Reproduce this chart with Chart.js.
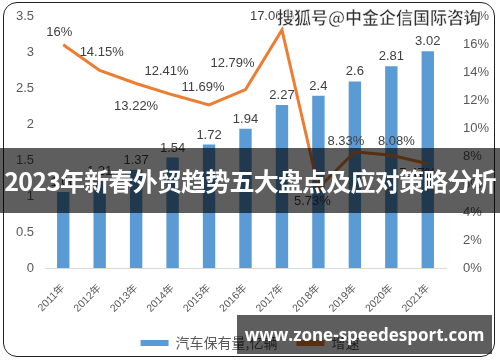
<!DOCTYPE html>
<html>
<head>
<meta charset="utf-8">
<script src="https://cdn.jsdelivr.net/npm/chart.js@4/dist/chart.umd.min.js"></script>
<style>
  html, body { margin: 0; padding: 0; background: #fff; }
  #wrap { position: relative; width: 500px; height: 362px; overflow: hidden; }
  #frame { position: absolute; left: 3px; top: 2px; width: 492px; height: 355px;
           border: 1.5px solid #222; border-radius: 14px; box-sizing: border-box; }
  #box { position: absolute; left: 0; top: 0; width: 500px; height: 362px; }
  .band { position: absolute; left: 0; top: 148px; width: 500px; height: 65px;
          background: rgba(0,0,0,0.63); color: #fff; font: bold 25px "Noto Sans CJK SC", sans-serif;
          line-height: 65px; text-align: center; white-space: nowrap; letter-spacing: -0.8px; }
  .site { position: absolute; left: 237px; top: 315px; width: 255px; height: 39px;
          background: rgba(0,0,0,0.63); color: #fff; font: bold 17px "Open Sans", "DejaVu Sans", sans-serif;
          line-height: 39px; text-align: center; white-space: nowrap; }
  .mark { position: absolute; left: 277px; top: 4px; color: #333; font: bold 17px "Noto Sans CJK SC", sans-serif;
          white-space: nowrap; -webkit-text-stroke: 0.5px #fff; text-shadow: 0 0 2px #fff, 0 0 2px #fff; }
</style>
</head>
<body>
<div id="wrap">
  <div id="box"><canvas id="car-chart" width="500" height="362"></canvas></div>
  <div id="frame"></div>
  <div class="mark">搜狐号@中金企信国际咨询</div>
  <div class="band">2023年新春外贸趋势五大盘点及应对策略分析</div>
  <div class="site">www.zone-speedesport.com</div>
</div>
<script>
var years = ["2011年", "2012年", "2013年", "2014年", "2015年", "2016年", "2017年", "2018年", "2019年", "2020年", "2021年"]
var carStock = [1.06, 1.21, 1.37, 1.54, 1.72, 1.94, 2.27, 2.4, 2.6, 2.81, 3.02]
var growth = [16, 14.15, 13.22, 12.41, 11.69, 12.79, 17.06, 5.73, 8.33, 8.08, 7.47]
var growthText = ["16%", "14.15%", "13.22%", "12.41%", "11.69%", "12.79%", "17.06%", "5.73%", "8.33%", "8.08%", "7.47%"]

// label offsets for the growth line (dx, dy from the point)
var lineLabelPos = [[-4, -12], [2, -18], [0, 23], [-6, -23], [-6, -17], [-13, -26], [-10, -13], [-6, 13], [-9, -10], [5, -14], [-10, 10]]

const labelPlugin = {
  id: "labels",
  afterDatasetsDraw(chart) {
    const ctx = chart.ctx;
    ctx.save();
    ctx.font = "13px 'Liberation Sans', sans-serif";
    ctx.fillStyle = "#404040";
    ctx.textAlign = "center";
    ctx.textBaseline = "bottom";
    chart.getDatasetMeta(0).data.forEach((bar, i) => {
      ctx.fillText(String(carStock[i]), bar.x, bar.y - 3);
    });
    ctx.textBaseline = "middle";
    chart.getDatasetMeta(1).data.forEach((pt, i) => {
      ctx.fillText(growthText[i], pt.x + lineLabelPos[i][0], pt.y + lineLabelPos[i][1]);
    });
    ctx.restore();
  }
};

new Chart("car-chart", {
  type: "bar",
  data: {
    labels: years,
    datasets: [{
      label: "汽车保有量,亿辆",
      data: carStock,
      backgroundColor: "#5B9BD5",
      categoryPercentage: 1,
      barPercentage: 0.34,
      yAxisID: "y",
      order: 2
    }, {
      type: "line",
      label: "增速",
      data: growth,
      borderColor: "#ED7D31",
      backgroundColor: "#ED7D31",
      borderWidth: 3,
      pointRadius: 0,
      yAxisID: "y1",
      order: 1
    }]
  },
  options: {
    responsive: false,
    animation: false,
    layout: { padding: { left: 0, right: 0, top: 13, bottom: 2 } },
    plugins: {
      tooltip: { enabled: false },
      legend: {
        position: "bottom",
        labels: {
          color: "#595959",
          font: { size: 14, family: "'Noto Sans CJK SC', sans-serif" },
          boxWidth: 28,
          boxHeight: 6,
          padding: 19,
          generateLabels(chart) {
            return chart.data.datasets.map((ds, i) => ({
              text: ds.label,
              fillStyle: ds.backgroundColor,
              strokeStyle: ds.backgroundColor,
              lineWidth: 0,
              fontColor: "#595959",
              datasetIndex: i
            }));
          }
        }
      }
    },
    scales: {
      x: {
        grid: { display: true, drawOnChartArea: false, drawTicks: true, tickLength: 14, tickColor: "rgba(0,0,0,0)" },
        border: { color: "#d9d9d9" },
        afterFit: s => { s.height = 49; },
        ticks: {
          color: "#595959",
          font: { size: 10.5, family: "'Liberation Sans', 'Noto Sans CJK SC', sans-serif" },
          minRotation: 45, maxRotation: 45, padding: 0
        }
      },
      y: {
        position: "left",
        min: 0, max: 3.5,
        grid: { display: false },
        border: { display: false },
        afterFit: s => { s.width = 45; },
        ticks: {
          stepSize: 0.5,
          color: "#595959",
          padding: 3,
          font: { size: 13, family: "'Liberation Sans', sans-serif" },
          callback: v => String(v)
        }
      },
      y1: {
        position: "right",
        min: 0, max: 18,
        grid: { display: false },
        border: { display: false },
        afterFit: s => { s.width = 54; },
        ticks: {
          stepSize: 2,
          color: "#595959",
          padding: 9,
          font: { size: 13, family: "'Liberation Sans', sans-serif" },
          callback: v => v + "%"
        }
      }
    }
  },
  plugins: [labelPlugin]
});
</script>
</body>
</html>
